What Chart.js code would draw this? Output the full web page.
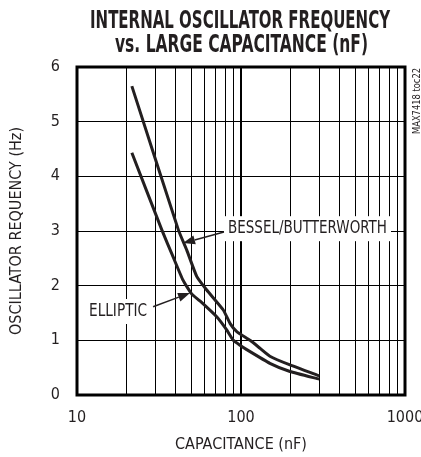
<!DOCTYPE html>
<html><head><meta charset="utf-8">
<script src="https://cdn.jsdelivr.net/npm/chart.js@4/dist/chart.umd.min.js"></script>
<style>html,body{margin:0;padding:0;background:#fff;}#wrap{width:421px;height:457px;}</style>
</head><body><div id="wrap"><canvas id="c" width="421" height="457"></canvas></div>
<script>
// ---- data ----
const besselCap  = [21.6, 41.5, 46.7, 53.7, 61.8, 78, 85.7, 94.2, 113.5, 130, 150, 199, 300];
const besselFreq = [5.65, 3.02, 2.65, 2.17, 1.92, 1.555, 1.31, 1.16, 1.0, 0.86, 0.71, 0.55, 0.35];
const ellipticCap  = [21.6, 32.9, 38.5, 44.3, 50.0, 56.2, 71.1, 81.8, 89.8, 98.6, 108.4, 150, 199, 300];
const ellipticFreq = [4.43, 3.02, 2.53, 2.10, 1.85, 1.72, 1.43, 1.19, 1.0, 0.91, 0.83, 0.58, 0.43, 0.29];
const xGridValues = [10,20,30,40,50,60,70,80,90,100,200,300,400,500,600,700,800,900,1000];
const xTickLabels = [10,100,1000];
const yTickValues = [0,1,2,3,4,5,6];

const FAM = '"Liberation Sans Narrow","DejaVu Sans Condensed","Liberation Sans",sans-serif';
const INK = '#231f20';

function toPts(xs, ys){ return xs.map((x,i)=>({x:x, y:ys[i]})); }

function fitText(ctx, text, x, y, width, align){
  const w = ctx.measureText(text).width;
  ctx.save();
  ctx.translate(x, y);
  ctx.scale(width / w, 1);
  ctx.textAlign = align || 'left';
  ctx.fillText(text, 0, 0);
  ctx.restore();
}

const decor = {
  id: 'decor',
  beforeDatasetsDraw(chart){
    const {ctx, scales:{x, y}} = chart;
    const notes = [
      {text:'BESSEL/BUTTERWORTH', at:[83.3, 2.96], width:159, tail:[78.7, 2.98], tip:[44.3, 2.78]},
      {text:'ELLIPTIC', at:[11.84, 1.445], width:58, tail:[29.1, 1.615], tip:[48.9, 1.866]}
    ];
    ctx.save();
    ctx.font = '18px ' + FAM;
    notes.forEach(n=>{
      const lx = x.getPixelForValue(n.at[0]), by = y.getPixelForValue(n.at[1]);
      ctx.fillStyle = '#fff';
      ctx.fillRect(lx-4, by-17, n.width+8, 25);
      ctx.fillStyle = INK;
      ctx.textBaseline = 'alphabetic';
      fitText(ctx, n.text, lx, by, n.width, 'left');
      const tx = x.getPixelForValue(n.tail[0]), ty = y.getPixelForValue(n.tail[1]);
      const hx = x.getPixelForValue(n.tip[0]), hy = y.getPixelForValue(n.tip[1]);
      const ang = Math.atan2(hy-ty, hx-tx);
      const L = 12, W = 4.5;
      const bx = hx - L*Math.cos(ang), byy = hy - L*Math.sin(ang);
      ctx.strokeStyle = INK; ctx.lineWidth = 1.5;
      ctx.beginPath(); ctx.moveTo(tx, ty); ctx.lineTo(bx, byy); ctx.stroke();
      ctx.beginPath();
      ctx.moveTo(hx, hy);
      ctx.lineTo(bx + W*Math.sin(ang), byy - W*Math.cos(ang));
      ctx.lineTo(bx - W*Math.sin(ang), byy + W*Math.cos(ang));
      ctx.closePath(); ctx.fill();
    });
    ctx.restore();
  },
  afterDraw(chart){
    const {ctx, chartArea:a} = chart;
    ctx.save();
    ctx.strokeStyle = '#000'; ctx.lineWidth = 3;
    ctx.strokeRect(a.left, a.top, a.right-a.left, a.bottom-a.top);
    ctx.fillStyle = INK;
    ctx.textBaseline = 'alphabetic';
    ctx.font = 'bold 24px ' + FAM;
    fitText(ctx, 'INTERNAL OSCILLATOR FREQUENCY', 240, 28, 300, 'center');
    fitText(ctx, 'vs. LARGE CAPACITANCE (nF)', 241.5, 52, 253, 'center');
    ctx.font = '10px ' + FAM;
    ctx.save();
    ctx.translate(417, 101);
    ctx.rotate(-Math.PI/2);
    ctx.textBaseline = 'middle';
    fitText(ctx, 'MAX7418 toc22', 0, 0, 66, 'center');
    ctx.restore();
    ctx.restore();
  }
};

new Chart(document.getElementById('c'), {
  type: 'line',
  data: {
    datasets: [
      {label:'BESSEL/BUTTERWORTH', data: toPts(besselCap, besselFreq), borderColor: INK, borderWidth: 3, pointRadius: 0, tension: 0.15, fill:false},
      {label:'ELLIPTIC', data: toPts(ellipticCap, ellipticFreq), borderColor: INK, borderWidth: 3, pointRadius: 0, tension: 0.15, fill:false}
    ]
  },
  options: {
    responsive: false, animation: false, devicePixelRatio: 1,
    layout: {padding: {top: 67, right: 16, left: 0, bottom: 0}},
    plugins: {legend: {display:false}, tooltip: {enabled:false}, title:{display:false}},
    scales: {
      x: {
        type: 'logarithmic', min: 10, max: 1000, position: 'bottom',
        afterBuildTicks: s => { s.ticks = xGridValues.map(v => ({value: v})); },
        afterFit: s => { s.height = 62; s.paddingLeft = 0; s.paddingRight = 0; },
        grid: {color: '#000', lineWidth: c => (c.tick && c.tick.value === 100) ? 2 : 1, drawTicks: false},
        border: {display: false},
        ticks: {autoSkip: false, maxRotation: 0, minRotation: 0, padding: 13, color: INK,
                font: {family: FAM, size: 16},
                callback: v => xTickLabels.includes(v) ? String(v) : ''},
        title: {display: true, text: 'CAPACITANCE (nF)', color: INK, font: {family: FAM, size: 16}, padding: {top: 0, bottom: 3}}
      },
      y: {
        min: 0, max: 6,
        afterBuildTicks: s => { s.ticks = yTickValues.map(v => ({value: v})); },
        afterFit: s => { s.width = 77; s.paddingTop = 0; s.paddingBottom = 0; },
        grid: {color: '#000', lineWidth: 1, drawTicks: false},
        border: {display: false},
        ticks: {padding: 17, color: INK, font: {family: FAM, size: 16}},
        title: {display: true, text: 'OSCILLATOR REQUENCY (Hz)', color: INK, font: {family: FAM, size: 16}, padding: {top: 7, bottom: 0}}
      }
    }
  },
  plugins: [decor]
});
</script></body></html>
